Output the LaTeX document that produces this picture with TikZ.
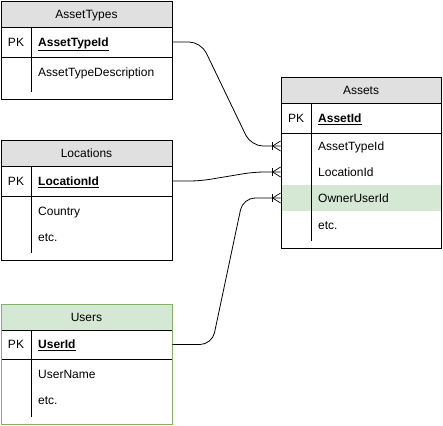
\documentclass[tikz,border=0pt]{standalone}
\usepackage{fontspec}
\setmainfont{Liberation Sans}
\usetikzlibrary{decorations.markings}

\definecolor{hdrgray}{HTML}{E0E0E0}
\definecolor{hdrgreen}{HTML}{D5E8D4}
\definecolor{edgegreen}{HTML}{82B366}

\tikzset{
  tbl/.style={draw=black, line width=0.8pt, inner sep=0pt},
  title/.style={inner sep=0pt, text height=8.6pt, text depth=0pt, font=\fontsize{12}{14}\selectfont},
  field/.style={title, anchor=west},
  key/.style={field, font=\fontsize{12}{14}\selectfont\bfseries},
  crowfoot/.style={decoration={markings, mark=at position 1 with {
        \draw[sharp corners, line width=0.8pt] (-8pt,-4pt) -- (-8pt,4pt);
        \draw[sharp corners, line width=0.7pt] (0pt,5pt) -- (-8pt,0pt) -- (0pt,-5pt);}},
      postaction={decorate}},
  link/.style={line width=0.8pt, rounded corners=12pt, crowfoot}
}

\begin{document}
\begin{tikzpicture}[x=1pt, y=-1pt]
  \useasboundingbox (0,0) rectangle (443,425);

  % header fills
  \fill[hdrgray] (1,1) rectangle (172,27);
  \fill[hdrgray] (1,140) rectangle (172,166);
  \fill[hdrgreen] (1,304) rectangle (172,330);
  \fill[hdrgray] (281,77) rectangle (441,103);
  \fill[hdrgreen] (281,185) rectangle (441,211);

  % AssetTypes
  \draw[line width=0.8pt] (1,27) -- (172,27) (1,57) -- (172,57) (31,27) -- (31,92);
  \node[tbl, minimum width=171pt, minimum height=98pt] (assettypes) at (86.5,50) {};
  \node[title] (assettypes-t) at (86.5,14) {AssetTypes};
  \node[title] (assettypes-pk) at (16,42) {PK};
  \node[key] (assettypeid) at (38,42) {\underline{AssetTypeId}};
  \node[field] (assettypedesc) at (38,72) {AssetTypeDescription};

  % Locations
  \draw[line width=0.8pt] (1,166) -- (172,166) (1,196) -- (172,196) (31,166) -- (31,253);
  \node[tbl, minimum width=171pt, minimum height=120pt] (locations) at (86.5,200) {};
  \node[title] (locations-t) at (86.5,153) {Locations};
  \node[title] (locations-pk) at (16,181) {PK};
  \node[key] (locationid) at (38,181) {\underline{LocationId}};
  \node[field] (country) at (38,211) {Country};
  \node[field] (locations-etc) at (38,237) {etc.};

  % Users
  \draw[line width=0.8pt] (1,330) -- (172,330) (1,359) -- (172,359) (31,330) -- (31,417);
  \node[tbl, draw=edgegreen, minimum width=171pt, minimum height=120pt] (users) at (86.5,364) {};
  \node[title] (users-t) at (86.5,317) {Users};
  \node[title] (users-pk) at (16,344.5) {PK};
  \node[key] (userid) at (38,344.5) {\underline{UserId}};
  \node[field] (username) at (38,374) {UserName};
  \node[field] (users-etc) at (38,400) {etc.};

  % Assets
  \draw[line width=0.8pt] (281,103) -- (441,103) (281,133) -- (441,133) (311,103) -- (311,241);
  \node[tbl, minimum width=160pt, minimum height=171pt] (assets) at (361,162.5) {};
  \node[title] (assets-t) at (361,90) {Assets};
  \node[title] (assets-pk) at (296,118) {PK};
  \node[key] (assetid) at (318,118) {\underline{AssetId}};
  \node[field] (a-typeid) at (318,146) {AssetTypeId};
  \node[field] (a-locationid) at (318,172) {LocationId};
  \node[field] (a-owneruserid) at (318,198) {OwnerUserId};
  \node[field] (assets-etc) at (318,225) {etc.};

  % relations
  \draw[link] (assettypes.east |- assettypeid) -- (201,42) -- (251,146) -- (assets.west |- a-typeid);
  \draw[link, rounded corners=10pt] (locations.east |- locationid) -- (200,181) -- (254,172) -- (assets.west |- a-locationid);
  \draw[link] (users.east |- userid) -- (212,344.5) -- (243,198) -- (assets.west |- a-owneruserid);
\end{tikzpicture}
\end{document}
